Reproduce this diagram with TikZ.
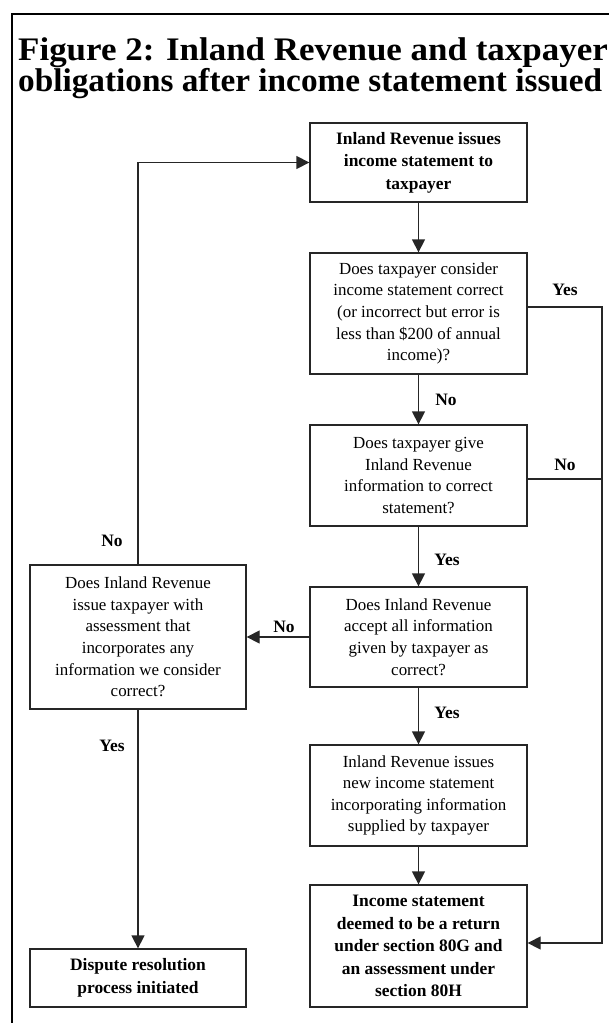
\documentclass[tikz,border=0pt]{standalone}
\usepackage{fontspec}
\setmainfont{Liberation Serif}
\usetikzlibrary{arrows.meta}
\begin{document}
\begin{tikzpicture}[x=1bp,y=-1bp,
  box/.style={draw=black!85, line width=1.3bp, minimum width=217bp, align=center, inner sep=0pt,
    font=\fontsize{17}{21.7}\selectfont},
  bbox/.style={box, font=\fontsize{17.5}{22.5}\selectfont\bfseries},
  arr/.style={-{Triangle[length=13bp,width=13bp]}, line width=1.3bp, draw=black!85},
  ln/.style={line width=1.3bp, draw=black!85},
  lbl/.style={font=\fontsize{17.5}{21}\selectfont\bfseries, inner sep=0pt},
  ttl/.style={font=\fontsize{33}{31}\selectfont\bfseries, inner sep=0pt, anchor=base west}]
\useasboundingbox (0,0) rectangle (609,1023);
\clip (0,0) rectangle (609,1023);
% frame
\draw[line width=2.5bp] (12,1030) -- (12,14) -- (615,14);
% title
\node[ttl] (t1) at (18,60) {\scalebox{1.063}[1]{Figure 2: Inland Revenue and taxpayer}};
\node[ttl] (t2) at (18,91) {\scalebox{1.012}[1]{obligations after income statement issued}};
% boxes
\node[bbox, minimum height=79bp] (A) at (418.5,162.5) {Inland Revenue issues\\income statement to\\taxpayer};
\node[box, minimum height=121bp] (B) at (418.5,313.5) {Does taxpayer consider\\income statement correct\\(or incorrect but error is\\less than \$200 of annual\\income)?};
\node[box, minimum height=101bp] (C) at (418.5,475.5) {Does taxpayer give\\Inland Revenue\\information to correct\\statement?};
\node[box, minimum height=100bp] (D) at (418.5,637) {Does Inland Revenue\\accept all information\\given by taxpayer as\\correct?};
\node[box, minimum height=101bp] (G) at (418.5,795.5) {Inland Revenue issues\\new income statement\\incorporating information\\supplied by taxpayer};
\node[bbox, minimum height=122bp] (E) at (418.5,946) {Income statement\\deemed to be a return\\under section 80G and\\an assessment under\\section 80H};
\node[box, minimum width=216bp, minimum height=144bp] (F) at (138,637) {Does Inland Revenue\\issue taxpayer with\\assessment that\\incorporates any\\information we consider\\correct?};
\node[bbox, minimum width=216bp, minimum height=58bp] (H) at (138,978) {Dispute resolution\\process initiated};
% coordinates for the right-hand return line
\coordinate (y1) at (602,307);
\coordinate (y2) at (602,943);
\coordinate (n1) at (602,479);
% connectors
\draw[arr] (A) -- (B);
\draw[arr] (B) -- (C);
\draw[arr] (C) -- (D);
\draw[arr] (D) -- (G);
\draw[arr] (G) -- (E);
\draw[arr] (D) -- (F);
\draw[arr] (F.north) |- (A.west);
\draw[arr] (F) -- (H);
\draw[arr] (B.east |- y1) -- (y1) -- (y2) -- (E.east |- y2);
\draw[ln] (C.east |- n1) -- (n1);
% labels
\node[lbl] (lyes1) at (565,290) {Yes};
\node[lbl] (lno1) at (446,400) {No};
\node[lbl] (lno2) at (565,465) {No};
\node[lbl] (lyes2) at (447,560) {Yes};
\node[lbl] (lno3) at (284,627) {No};
\node[lbl] (lyes3) at (447,713) {Yes};
\node[lbl] (lno4) at (112,541) {No};
\node[lbl] (lyes4) at (112,746) {Yes};
\end{tikzpicture}
\end{document}
